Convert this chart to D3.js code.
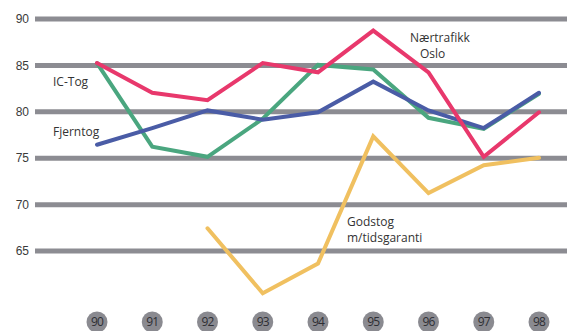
<!DOCTYPE html>
<html>
<head>
<meta charset="utf-8">
<script src="https://cdn.jsdelivr.net/npm/d3@7"></script>
<style>
  html, body { margin: 0; padding: 0; background: #fff; }
  svg { display: block; font-family: "Open Sans", "Noto Sans", sans-serif; }
</style>
</head>
<body>
<svg id="chart" width="567" height="331"></svg>
<script>
// Punctuality per train category, 1990–1998 (percent)
const years = ["90", "91", "92", "93", "94", "95", "96", "97", "98"];
const yTicks = [90, 85, 80, 75, 70, 65];

const naertrafikk = [85.2, 82.0, 81.2, 85.2, 84.2, 88.7, 84.2, 75.1, 79.9];
const icTog       = [85.2, 76.2, 75.1, 79.2, 85.0, 84.5, 79.3, 78.1, 81.9];
const fjerntog    = [76.4, 78.2, 80.1, 79.1, 79.9, 83.2, 80.1, 78.2, 82.0];
const godstog     = [null, null, 67.4, 60.4, 63.6, 77.3, 71.2, 74.2, 75.0];

const series = [
  { name: "Godstog",     values: godstog,     color: "#f0c060" },
  { name: "IC-Tog",      values: icTog,       color: "#4aa67f" },
  { name: "Fjerntog",    values: fjerntog,    color: "#4a5ca6" },
  { name: "Nærtrafikk",  values: naertrafikk, color: "#e8386c" }
];

const svg = d3.select("#chart");

const x = d3.scalePoint().domain(years).range([97, 539]);
const y = d3.scaleLinear().domain([60, 90]).range([297, 18.5]);

// Horizontal grid bars
const yAxis = d3.axisLeft(y).tickValues(yTicks).tickSize(0).tickPadding(6)
  .tickFormat(d3.format("d"));
const gy = svg.append("g").attr("transform", "translate(35,0)").call(yAxis);
gy.select(".domain").remove();
gy.selectAll(".tick line").remove();
gy.selectAll(".tick").append("line")
  .attr("x1", 0).attr("x2", 567 - 35)
  .attr("stroke", "#8c8c92").attr("stroke-width", 5);
gy.selectAll(".tick text")
  .attr("fill", "#3a3a3a").attr("font-size", 12)
  .attr("x", -6).attr("dy", "0.35em");

// Series lines
const line = d3.line()
  .defined(d => d.v != null)
  .x(d => x(d.year))
  .y(d => y(d.v));

svg.append("g").selectAll("path")
  .data(series)
  .join("path")
  .attr("d", s => line(s.values.map((v, i) => ({ year: years[i], v }))))
  .attr("fill", "none")
  .attr("stroke", s => s.color)
  .attr("stroke-width", 4)
  .attr("stroke-linejoin", "miter")
  .attr("stroke-linecap", "round");

// Year markers along the bottom
const yearG = svg.append("g").selectAll("g")
  .data(years)
  .join("g")
  .attr("transform", d => `translate(${x(d)},322)`);
yearG.append("circle").attr("r", 10.5).attr("fill", "#8a8a90");
yearG.append("text")
  .attr("text-anchor", "middle").attr("dy", "0.36em")
  .attr("font-size", 12).attr("fill", "#2e2e33")
  .attr("letter-spacing", "-0.8")
  .text(d => d);

// Series labels
const labels = [
  { lines: ["IC-Tog"], x: 53, y: 86 },
  { lines: ["Fjerntog"], x: 53, y: 136 },
  { lines: ["Nærtrafikk", "Oslo"], x: 410, y: 42, dx: [0, 10] },
  { lines: ["Godstog", "m/tidsgaranti"], x: 347, y: 226 }
];
labels.forEach(l => {
  l.lines.forEach((s, i) => {
    svg.append("text")
      .attr("font-size", 12).attr("fill", "#333")
      .attr("x", l.x + (l.dx ? l.dx[i] : 0))
      .attr("y", l.y + i * 15.5)
      .text(s);
  });
});
</script>
</body>
</html>
